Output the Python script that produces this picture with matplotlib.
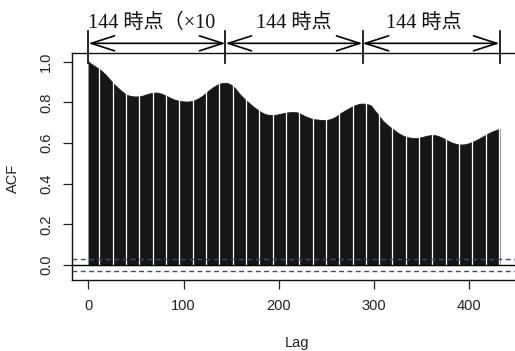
import numpy as np
import matplotlib
matplotlib.use("Agg")
import matplotlib.pyplot as plt

# 自己相関 (lag 0..432, 3 lag ごと)
lag_step = 3
acf = [
    1.000, 0.989, 0.980, 0.971, 0.962, 0.949, 0.936, 0.920, 0.905, 0.889,
    0.876, 0.863, 0.851, 0.840, 0.834, 0.831, 0.829, 0.829, 0.830, 0.833,
    0.838, 0.842, 0.846, 0.848, 0.848, 0.845, 0.840, 0.834, 0.827, 0.820,
    0.814, 0.810, 0.807, 0.805, 0.804, 0.804, 0.806, 0.810, 0.816, 0.824,
    0.833, 0.845, 0.857, 0.868, 0.878, 0.886, 0.892, 0.895, 0.896, 0.893,
    0.886, 0.875, 0.858, 0.840, 0.826, 0.812, 0.800, 0.788, 0.776, 0.766,
    0.756, 0.748, 0.742, 0.739, 0.738, 0.738, 0.740, 0.743, 0.746, 0.749,
    0.751, 0.752, 0.752, 0.751, 0.746, 0.738, 0.731, 0.726, 0.721, 0.717,
    0.716, 0.714, 0.713, 0.713, 0.715, 0.719, 0.725, 0.733, 0.745, 0.753,
    0.761, 0.769, 0.777, 0.784, 0.789, 0.793, 0.794, 0.793, 0.790, 0.784,
    0.765, 0.748, 0.729, 0.712, 0.698, 0.686, 0.675, 0.665, 0.654, 0.645,
    0.638, 0.632, 0.628, 0.626, 0.624, 0.624, 0.627, 0.630, 0.634, 0.637,
    0.639, 0.639, 0.637, 0.632, 0.626, 0.619, 0.611, 0.604, 0.599, 0.595,
    0.593, 0.593, 0.594, 0.598, 0.603, 0.609, 0.616, 0.623, 0.631, 0.639,
    0.647, 0.654, 0.660, 0.665, 0.670,
]
lags = np.arange(len(acf)) * lag_step
conf = 0.031          # 95% 信頼限界
day = 144             # 1日 = 144 時点
span_labels = ["144 時点（×10", "144 時点", "144 時点"]
span_label_x = [0, 216, 352]

x_ticks = [0, 100, 200, 300, 400]
y_ticks = [0.0, 0.2, 0.4, 0.6, 0.8, 1.0]

sans = "Liberation Sans"
serif = ["Liberation Serif", "Noto Sans CJK JP"]

fig = plt.figure(figsize=(5.15, 3.51), dpi=100)
ax = fig.add_axes([72 / 515, 1 - 280 / 351, 444 / 515, (280 - 53.3) / 351])

# 縦線が密に並んで塗りつぶしに見える
ax.fill_between(lags, 0, acf, color="#161616", lw=0.6, edgecolor="#161616",
                zorder=2)
# 印刷で出る白いすき間
gaps = np.arange(11.5, lags.max(), 14)
ax.vlines(gaps, 0.0, 1.0, color="white", lw=0.9, zorder=2.5)

ax.axhline(0, color="black", lw=1.0, zorder=3)
for c in (conf, -conf):
    ax.axhline(c, color="#3c4a78", lw=1.0, ls=(0, (3.5, 2.5)), zorder=3)

ax.set_xlim(-17.3, 449.3)
ax.set_ylim(-0.073, 1.041)
ax.set_xticks(x_ticks)
ax.set_yticks(y_ticks)
ax.set_xticklabels([str(t) for t in x_ticks], fontfamily=sans, fontsize=10.5)
ax.set_yticklabels([f"{t:.1f}" for t in y_ticks], fontfamily=sans,
                   fontsize=10.5, rotation=90, va="center")
ax.tick_params(axis="both", direction="out", length=6.5, width=0.9,
               color="#222222", labelcolor="#222222")
ax.tick_params(axis="x", pad=7)
ax.tick_params(axis="y", pad=7)
for s in ax.spines.values():
    s.set_linewidth(1.0)
    s.set_color("#111111")

fig.text(13 / 515, 1 - 178 / 351, "ACF", rotation=90, ha="center",
         va="center", fontfamily=sans, fontsize=10.5, color="#222222")
fig.text(297 / 515, 1 - 343 / 351, "Lag", ha="center", va="center",
         fontfamily=sans, fontsize=10.5, color="#222222")

# 1日ごとの区間を示す矢印
bounds = np.arange(4) * day
for b in bounds:
    ax.plot([b, b], [0.995, 1.15], color="black", lw=1.2, clip_on=False,
            zorder=4)
for a, b in zip(bounds[:-1], bounds[1:]):
    ax.annotate("", xy=(b, 1.09), xytext=(a, 1.09), annotation_clip=False,
                arrowprops=dict(arrowstyle="<->,head_length=1.4,head_width=0.45",
                                lw=1.2, color="black", shrinkA=0, shrinkB=0,
                                mutation_scale=12))
for i, (txt, x) in enumerate(zip(span_labels, span_label_x)):
    ax.text(x, 1.19, txt, ha="left" if i == 0 else "center", va="center",
            fontfamily=serif, fontsize=14.5, color="#111111", clip_on=False)

fig.savefig("out.png", dpi=100)
